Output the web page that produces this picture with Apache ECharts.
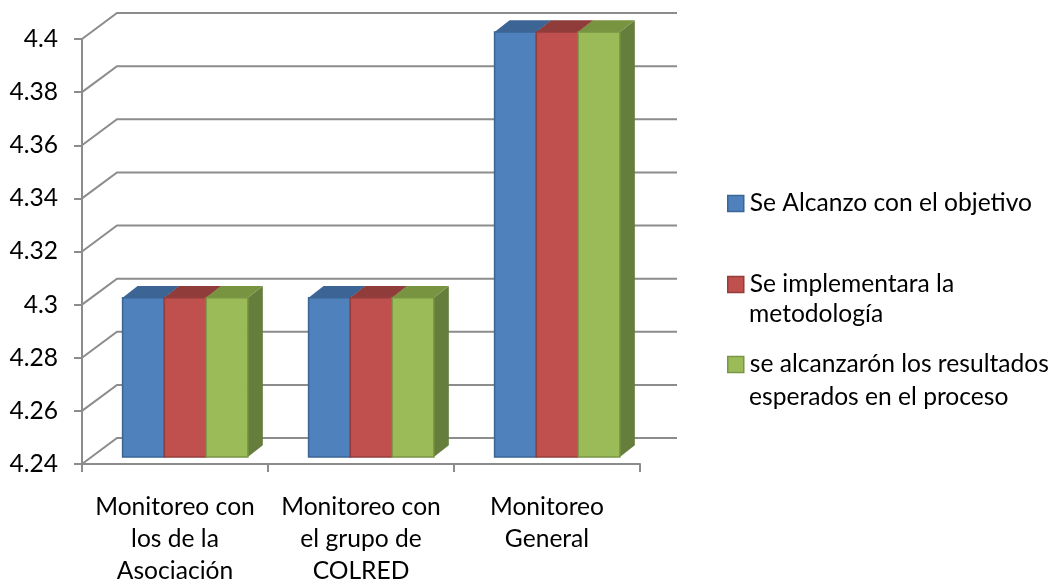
<!DOCTYPE html>
<html><head><meta charset="utf-8">
<style>html,body{margin:0;padding:0;background:#fff}#c{width:1055px;height:584px}</style>
<script src="https://cdn.jsdelivr.net/npm/echarts@6/dist/echarts.min.js"></script>
</head><body><div id="c"></div>
<script>
const categories = ['Monitoreo con\nlos de la\nAsociación', 'Monitoreo con\nel grupo de\nCOLRED', 'Monitoreo\nGeneral'];
const serie1 = [4.3, 4.3, 4.4];
const serie2 = [4.3, 4.3, 4.4];
const serie3 = [4.3, 4.3, 4.4];
const seriesNames = ['Se Alcanzo con el objetivo', 'Se implementara la metodología', 'se alcanzarón los resultados esperados en el proceso'];
const legendFirst = ['Se Alcanzo con el objetivo', 'Se implementara la', 'se alcanzarón los resultados'];
const legendSecond = ['', 'metodología', 'esperados en el proceso'];
const yTicks = [4.24, 4.26, 4.28, 4.3, 4.32, 4.34, 4.36, 4.38, 4.4];

const FONT = 'Lato';
const FS = 24.6;
const GRAY = '#8c8c8c';
const palette = [
  {front:'#4F81BD', top:'#3C6494', side:'#3C6494', edge:'#3A6595'},
  {front:'#C0504D', top:'#8F3C3A', side:'#8F3C3A', edge:'#943D3A'},
  {front:'#9BBB59', top:'#789440', side:'#667E3B', edge:'#7A9644'}
];

function barRender(si){
  return function(params, api){
    const p = api.coord([api.value(0), api.value(1)]);
    const band = api.size([1,0])[0];
    const w = band*0.2245;
    const x = p[0] + 10.2 - 1.5*w + si*w;
    const y = p[1] - 6.9;
    const b = api.coord([api.value(0), 4.24])[1] - 6.9;
    const dx = 15, dy = 11.8;
    const c = palette[si];
    return {type:'group', children:[
      {type:'polygon', shape:{points:[[x+w,y],[x+w+dx,y-dy],[x+w+dx,b-dy],[x+w,b]]}, style:{fill:c.side}},
      {type:'polygon', shape:{points:[[x,y],[x+dx,y-dy],[x+w+dx,y-dy],[x+w,y]]}, style:{fill:c.top}},
      {type:'rect', shape:{x:x,y:y,width:w,height:b-y}, style:{fill:c.front, stroke:c.edge, lineWidth:1.5}}
    ]};
  };
}
function gridRender(params, api){
  const cs = params.coordSys;
  const y = api.coord([0, api.value(1)])[1];
  const x0 = cs.x, x1 = cs.x + cs.width;
  return {type:'polyline', shape:{points:[[x0,y],[x0+35,y-26],[x1+37,y-26]]},
    style:{fill:'none', stroke:GRAY, lineWidth:2}};
}
const values = [serie1, serie2, serie3];
const series = [{
  type:'custom', name:'rejilla', silent:true, z:1, renderItem:gridRender,
  encode:{x:0,y:1}, data:yTicks.map(v=>[0,v]), clip:false
}].concat(values.map((vals,si)=>({
  type:'custom', name:seriesNames[si], z:2+si, renderItem:barRender(si),
  encode:{x:0,y:1}, data:vals.map((v,i)=>[i,v]), clip:false,
  itemStyle:{color:palette[si].front}
})));
const legendTops = [191, 272, 352];
const contTops = [0, 316, 399];
const txt = {fontFamily:FONT, fontSize:FS, color:'#000'};
const chart = echarts.init(document.getElementById('c'), null, {renderer:'canvas'});
chart.setOption({
  animation:false,
  backgroundColor:'#fff',
  grid:{left:82, top:39, width:558, height:425, containLabel:false, outerBoundsMode:'none'},
  xAxis:{type:'category', data:categories, boundaryGap:true,
    axisLine:{show:true, lineStyle:{color:GRAY, width:2}},
    axisTick:{show:true, length:8, lineStyle:{color:GRAY, width:2}},
    axisLabel:{...txt, interval:0, lineHeight:32, margin:27}},
  yAxis:{type:'value', min:4.24, max:4.4, interval:0.02,
    axisLine:{show:true, lineStyle:{color:GRAY, width:2}},
    axisTick:{show:true, length:8, lineStyle:{color:GRAY, width:2}},
    splitLine:{show:false},
    axisLabel:{...txt, margin:24, formatter:v=>String(+v.toFixed(2))}},
  legend:seriesNames.map((n,i)=>({
    show:true, data:[n], left:727, top:legendTops[i], padding:0, orient:'vertical',
    itemWidth:16, itemHeight:16, itemGap:0, icon:'rect', selectedMode:false,
    itemStyle:{color:palette[i].front, borderColor:palette[i].edge, borderWidth:1.5},
    formatter:()=>legendFirst[i], textStyle:{...txt, padding:[0,0,0,1]}
  })),
  graphic:legendSecond.map((s,i)=>s?({
    type:'text', left:749, top:contTops[i]-14, style:{text:s, font:FS+'px '+FONT, fill:'#000'}
  }):null).filter(Boolean),
  series:series
});
</script></body></html>
